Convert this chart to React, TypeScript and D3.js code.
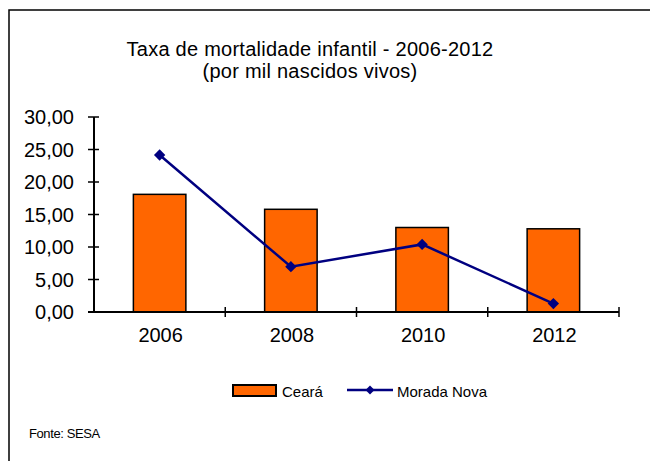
import React, { useEffect, useRef } from 'react';
import * as d3 from 'd3';

const years = ['2006', '2008', '2010', '2012'];
const ceara = [18.1, 15.8, 13.0, 12.8];
const moradaNova = [24.15, 6.97, 10.4, 1.3];
const yTicks = [0, 5, 10, 15, 20, 25, 30];

const App = () => {
  const svgRef = useRef<SVGSVGElement>(null);

  useEffect(() => {
    if (!svgRef.current) return;
    const svg = d3.select(svgRef.current);
    svg.selectAll('*').remove();

    const left = 94, right = 619, top = 117, bottom = 312;
    const orange = '#ff6600';
    const navy = '#000080';
    const arial = '"Liberation Sans", Arial, sans-serif';

    // outer frame
    svg.append('rect')
      .attr('x', 9).attr('y', 10)
      .attr('width', 660).attr('height', 470)
      .attr('fill', 'white').attr('stroke', 'black').attr('stroke-width', 1.5);

    // title
    const title = svg.append('text')
      .attr('text-anchor', 'middle')
      .attr('font-family', arial).attr('font-size', 20)
      .attr('letter-spacing', 0.25);
    title.append('tspan').attr('x', 310).attr('y', 56).text('Taxa de mortalidade infantil - 2006-2012');
    title.append('tspan').attr('x', 310).attr('y', 78).text('(por mil nascidos vivos)');

    const x = d3.scaleBand().domain(years).range([left, right]);
    const y = d3.scaleLinear().domain([0, 30]).range([bottom, top]);
    const barW = x.bandwidth() * 0.4;

    // bars
    svg.selectAll('rect.bar')
      .data(ceara)
      .enter()
      .append('rect')
      .attr('class', 'bar')
      .attr('x', (_, i) => x(years[i])! + x.bandwidth() / 2 - barW / 2)
      .attr('y', d => y(d))
      .attr('width', barW)
      .attr('height', d => bottom - y(d))
      .attr('fill', orange)
      .attr('stroke', 'black')
      .attr('stroke-width', 1.5);

    // y axis
    const yAxis = svg.append('g');
    yAxis.append('line')
      .attr('x1', left).attr('x2', left)
      .attr('y1', top).attr('y2', bottom)
      .attr('stroke', 'black').attr('stroke-width', 2);
    yTicks.forEach(t => {
      yAxis.append('line')
        .attr('x1', left - 6).attr('x2', left + 5)
        .attr('y1', y(t)).attr('y2', y(t))
        .attr('stroke', 'black').attr('stroke-width', 1.5);
      yAxis.append('text')
        .attr('x', 74).attr('y', y(t) + 7)
        .attr('text-anchor', 'end')
        .attr('font-family', arial).attr('font-size', 20)
        .text(d3.format('.2f')(t).replace('.', ','));
    });

    // x axis
    const xAxis = svg.append('g');
    xAxis.append('line')
      .attr('x1', left - 6).attr('x2', right)
      .attr('y1', bottom).attr('y2', bottom)
      .attr('stroke', 'black').attr('stroke-width', 2);
    years.forEach(yr => {
      const xt = x(yr)! + x.bandwidth();
      xAxis.append('line')
        .attr('x1', xt).attr('x2', xt)
        .attr('y1', bottom - 5).attr('y2', bottom + 5)
        .attr('stroke', 'black').attr('stroke-width', 1.5);
      xAxis.append('text')
        .attr('x', x(yr)! + x.bandwidth() / 2 + 1).attr('y', 342)
        .attr('text-anchor', 'middle')
        .attr('font-family', arial).attr('font-size', 20)
        .text(yr);
    });

    // line
    const line = d3.line<number>()
      .x((_, i) => x(years[i])! + x.bandwidth() / 2)
      .y(d => y(d));
    svg.append('path')
      .attr('d', line(moradaNova))
      .attr('fill', 'none')
      .attr('stroke', navy)
      .attr('stroke-width', 2.5);
    svg.selectAll('path.mk')
      .data(moradaNova)
      .enter()
      .append('path')
      .attr('class', 'mk')
      .attr('d', d3.symbol(d3.symbolSquare, 64)())
      .attr('transform', (d, i) => `translate(${x(years[i])! + x.bandwidth() / 2},${y(d)}) rotate(45)`)
      .attr('fill', navy);

    // legend
    const lg = svg.append('g').attr('font-family', arial).attr('font-size', 15);
    lg.append('rect')
      .attr('x', 233).attr('y', 385).attr('width', 43).attr('height', 11)
      .attr('fill', orange).attr('stroke', 'black').attr('stroke-width', 2);
    lg.append('text').attr('x', 282).attr('y', 397).text('Ceará');
    lg.append('line')
      .attr('x1', 347).attr('x2', 393).attr('y1', 390).attr('y2', 390)
      .attr('stroke', navy).attr('stroke-width', 2.5);
    lg.append('path')
      .attr('d', d3.symbol(d3.symbolSquare, 40)())
      .attr('transform', 'translate(370,390) rotate(45)')
      .attr('fill', navy);
    lg.append('text').attr('x', 397).attr('y', 397).text('Morada Nova');

    // source
    svg.append('text')
      .attr('x', 29).attr('y', 438)
      .attr('font-family', arial).attr('font-size', 13)
      .attr('letter-spacing', -0.4)
      .text('Fonte: SESA');
  }, []);

  return (
    <svg
      ref={svgRef}
      width={650}
      height={461}
      style={{ position: 'absolute', left: 0, top: 0, display: 'block' }}
    />
  );
};

export default App;
